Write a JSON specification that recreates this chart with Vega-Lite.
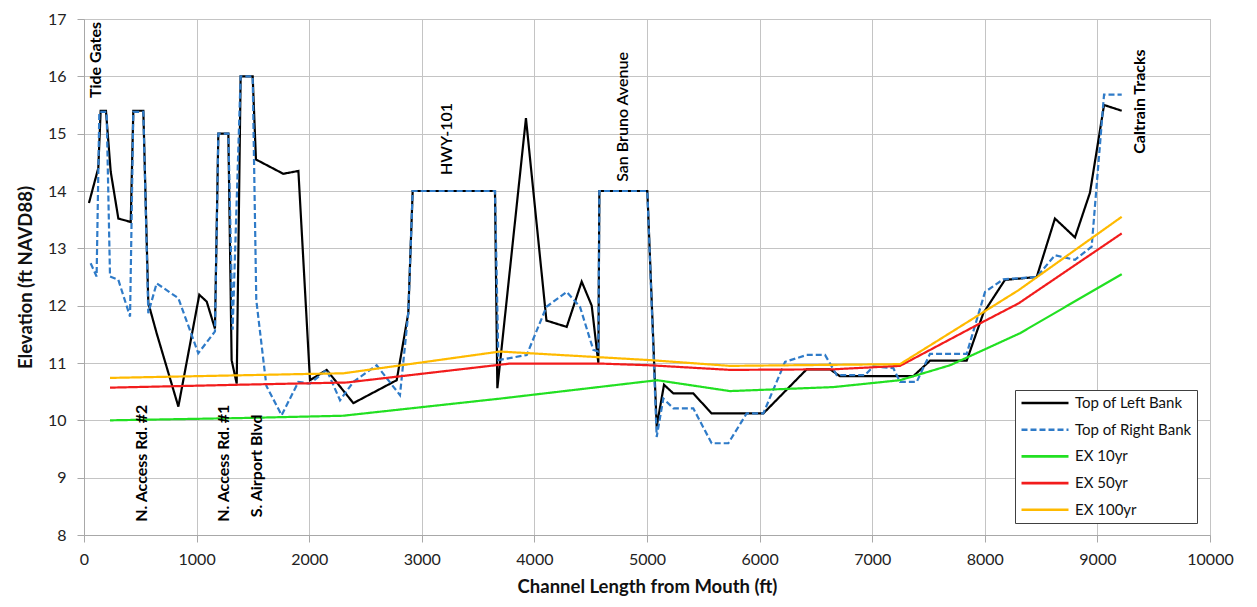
{
  "$schema": "https://vega.github.io/schema/vega-lite/v6.json",
  "width": 1126,
  "height": 516,
  "autosize": {"type": "none"},
  "padding": {"left": 84, "top": 19, "right": 47, "bottom": 72},
  "background": "white",
  "config": {
    "font": "Lato",
    "view": {"stroke": "#b4b4b4", "strokeWidth": 1},
    "axis": {
      "gridColor": "#c4c4c4",
      "gridWidth": 1,
      "domainColor": "#a8a8a8",
      "tickColor": "#a8a8a8",
      "tickSize": 7,
      "labelFont": "Lato",
      "labelFontSize": 16,
      "labelColor": "#222222",
      "titleFont": "Lato",
      "titleFontSize": 18.5,
      "titleFontWeight": "bold",
      "titleColor": "#111111"
    }
  },
  "datasets": {
    "lines": [
      {"series": "Top of Left Bank", "x": 44, "y": 13.79},
      {"series": "Top of Left Bank", "x": 127, "y": 14.40},
      {"series": "Top of Left Bank", "x": 148, "y": 15.40},
      {"series": "Top of Left Bank", "x": 195, "y": 15.40},
      {"series": "Top of Left Bank", "x": 237, "y": 14.34},
      {"series": "Top of Left Bank", "x": 305, "y": 13.52},
      {"series": "Top of Left Bank", "x": 415, "y": 13.46},
      {"series": "Top of Left Bank", "x": 438, "y": 15.40},
      {"series": "Top of Left Bank", "x": 527, "y": 15.40},
      {"series": "Top of Left Bank", "x": 571, "y": 12.05},
      {"series": "Top of Left Bank", "x": 645, "y": 11.52},
      {"series": "Top of Left Bank", "x": 838, "y": 10.24},
      {"series": "Top of Left Bank", "x": 1024, "y": 12.19},
      {"series": "Top of Left Bank", "x": 1090, "y": 12.07},
      {"series": "Top of Left Bank", "x": 1163, "y": 11.60},
      {"series": "Top of Left Bank", "x": 1193, "y": 15.00},
      {"series": "Top of Left Bank", "x": 1282, "y": 15.00},
      {"series": "Top of Left Bank", "x": 1311, "y": 11.05},
      {"series": "Top of Left Bank", "x": 1356, "y": 10.64},
      {"series": "Top of Left Bank", "x": 1391, "y": 16.00},
      {"series": "Top of Left Bank", "x": 1498, "y": 16.00},
      {"series": "Top of Left Bank", "x": 1527, "y": 14.55},
      {"series": "Top of Left Bank", "x": 1770, "y": 14.30},
      {"series": "Top of Left Bank", "x": 1904, "y": 14.35},
      {"series": "Top of Left Bank", "x": 2007, "y": 10.70},
      {"series": "Top of Left Bank", "x": 2155, "y": 10.88},
      {"series": "Top of Left Bank", "x": 2392, "y": 10.30},
      {"series": "Top of Left Bank", "x": 2777, "y": 10.70},
      {"series": "Top of Left Bank", "x": 2880, "y": 11.87},
      {"series": "Top of Left Bank", "x": 2919, "y": 14.00},
      {"series": "Top of Left Bank", "x": 3650, "y": 14.00},
      {"series": "Top of Left Bank", "x": 3671, "y": 10.56},
      {"series": "Top of Left Bank", "x": 3925, "y": 15.27},
      {"series": "Top of Left Bank", "x": 4107, "y": 11.74},
      {"series": "Top of Left Bank", "x": 4287, "y": 11.63},
      {"series": "Top of Left Bank", "x": 4420, "y": 12.42},
      {"series": "Top of Left Bank", "x": 4509, "y": 12.00},
      {"series": "Top of Left Bank", "x": 4568, "y": 11.00},
      {"series": "Top of Left Bank", "x": 4577, "y": 14.00},
      {"series": "Top of Left Bank", "x": 5003, "y": 14.00},
      {"series": "Top of Left Bank", "x": 5086, "y": 9.89},
      {"series": "Top of Left Bank", "x": 5151, "y": 10.62},
      {"series": "Top of Left Bank", "x": 5234, "y": 10.47},
      {"series": "Top of Left Bank", "x": 5411, "y": 10.47},
      {"series": "Top of Left Bank", "x": 5574, "y": 10.12},
      {"series": "Top of Left Bank", "x": 6033, "y": 10.12},
      {"series": "Top of Left Bank", "x": 6418, "y": 10.89},
      {"series": "Top of Left Bank", "x": 6625, "y": 10.89},
      {"series": "Top of Left Bank", "x": 6714, "y": 10.77},
      {"series": "Top of Left Bank", "x": 7365, "y": 10.77},
      {"series": "Top of Left Bank", "x": 7513, "y": 11.04},
      {"series": "Top of Left Bank", "x": 7839, "y": 11.04},
      {"series": "Top of Left Bank", "x": 7987, "y": 11.87},
      {"series": "Top of Left Bank", "x": 8179, "y": 12.45},
      {"series": "Top of Left Bank", "x": 8461, "y": 12.50},
      {"series": "Top of Left Bank", "x": 8623, "y": 13.52},
      {"series": "Top of Left Bank", "x": 8801, "y": 13.19},
      {"series": "Top of Left Bank", "x": 8934, "y": 13.97},
      {"series": "Top of Left Bank", "x": 9059, "y": 15.50},
      {"series": "Top of Left Bank", "x": 9216, "y": 15.40},

      {"series": "Top of Right Bank", "x": 59, "y": 12.74},
      {"series": "Top of Right Bank", "x": 112, "y": 12.51},
      {"series": "Top of Right Bank", "x": 136, "y": 15.38},
      {"series": "Top of Right Bank", "x": 201, "y": 15.38},
      {"series": "Top of Right Bank", "x": 231, "y": 12.51},
      {"series": "Top of Right Bank", "x": 305, "y": 12.45},
      {"series": "Top of Right Bank", "x": 409, "y": 11.81},
      {"series": "Top of Right Bank", "x": 438, "y": 15.38},
      {"series": "Top of Right Bank", "x": 527, "y": 15.38},
      {"series": "Top of Right Bank", "x": 571, "y": 11.87},
      {"series": "Top of Right Bank", "x": 645, "y": 12.39},
      {"series": "Top of Right Bank", "x": 838, "y": 12.13},
      {"series": "Top of Right Bank", "x": 1015, "y": 11.17},
      {"series": "Top of Right Bank", "x": 1163, "y": 11.55},
      {"series": "Top of Right Bank", "x": 1193, "y": 15.00},
      {"series": "Top of Right Bank", "x": 1282, "y": 15.00},
      {"series": "Top of Right Bank", "x": 1320, "y": 11.58},
      {"series": "Top of Right Bank", "x": 1391, "y": 16.00},
      {"series": "Top of Right Bank", "x": 1498, "y": 16.00},
      {"series": "Top of Right Bank", "x": 1530, "y": 12.10},
      {"series": "Top of Right Bank", "x": 1620, "y": 10.60},
      {"series": "Top of Right Bank", "x": 1755, "y": 10.09},
      {"series": "Top of Right Bank", "x": 1904, "y": 10.67},
      {"series": "Top of Right Bank", "x": 2007, "y": 10.64},
      {"series": "Top of Right Bank", "x": 2155, "y": 10.88},
      {"series": "Top of Right Bank", "x": 2274, "y": 10.35},
      {"series": "Top of Right Bank", "x": 2392, "y": 10.67},
      {"series": "Top of Right Bank", "x": 2599, "y": 10.96},
      {"series": "Top of Right Bank", "x": 2806, "y": 10.44},
      {"series": "Top of Right Bank", "x": 2880, "y": 11.87},
      {"series": "Top of Right Bank", "x": 2919, "y": 14.00},
      {"series": "Top of Right Bank", "x": 3650, "y": 14.00},
      {"series": "Top of Right Bank", "x": 3680, "y": 11.05},
      {"series": "Top of Right Bank", "x": 3932, "y": 11.14},
      {"series": "Top of Right Bank", "x": 4107, "y": 11.98},
      {"series": "Top of Right Bank", "x": 4287, "y": 12.24},
      {"series": "Top of Right Bank", "x": 4405, "y": 11.98},
      {"series": "Top of Right Bank", "x": 4523, "y": 11.23},
      {"series": "Top of Right Bank", "x": 4568, "y": 11.20},
      {"series": "Top of Right Bank", "x": 4577, "y": 14.00},
      {"series": "Top of Right Bank", "x": 5003, "y": 14.00},
      {"series": "Top of Right Bank", "x": 5086, "y": 9.71},
      {"series": "Top of Right Bank", "x": 5145, "y": 10.38},
      {"series": "Top of Right Bank", "x": 5234, "y": 10.21},
      {"series": "Top of Right Bank", "x": 5411, "y": 10.21},
      {"series": "Top of Right Bank", "x": 5574, "y": 9.60},
      {"series": "Top of Right Bank", "x": 5722, "y": 9.60},
      {"series": "Top of Right Bank", "x": 5885, "y": 10.12},
      {"series": "Top of Right Bank", "x": 6033, "y": 10.12},
      {"series": "Top of Right Bank", "x": 6226, "y": 11.02},
      {"series": "Top of Right Bank", "x": 6418, "y": 11.14},
      {"series": "Top of Right Bank", "x": 6581, "y": 11.14},
      {"series": "Top of Right Bank", "x": 6685, "y": 10.79},
      {"series": "Top of Right Bank", "x": 6936, "y": 10.79},
      {"series": "Top of Right Bank", "x": 7010, "y": 10.94},
      {"series": "Top of Right Bank", "x": 7188, "y": 10.91},
      {"series": "Top of Right Bank", "x": 7247, "y": 10.67},
      {"series": "Top of Right Bank", "x": 7395, "y": 10.67},
      {"series": "Top of Right Bank", "x": 7513, "y": 11.16},
      {"series": "Top of Right Bank", "x": 7839, "y": 11.16},
      {"series": "Top of Right Bank", "x": 8002, "y": 12.24},
      {"series": "Top of Right Bank", "x": 8165, "y": 12.46},
      {"series": "Top of Right Bank", "x": 8461, "y": 12.50},
      {"series": "Top of Right Bank", "x": 8623, "y": 12.88},
      {"series": "Top of Right Bank", "x": 8801, "y": 12.80},
      {"series": "Top of Right Bank", "x": 8949, "y": 13.03},
      {"series": "Top of Right Bank", "x": 9059, "y": 15.68},
      {"series": "Top of Right Bank", "x": 9216, "y": 15.68},

      {"series": "EX 10yr", "x": 231, "y": 10.00},
      {"series": "EX 10yr", "x": 1400, "y": 10.04},
      {"series": "EX 10yr", "x": 2300, "y": 10.08},
      {"series": "EX 10yr", "x": 3700, "y": 10.38},
      {"series": "EX 10yr", "x": 5090, "y": 10.70},
      {"series": "EX 10yr", "x": 5737, "y": 10.51},
      {"series": "EX 10yr", "x": 6655, "y": 10.58},
      {"series": "EX 10yr", "x": 7247, "y": 10.70},
      {"series": "EX 10yr", "x": 7691, "y": 10.96},
      {"series": "EX 10yr", "x": 8313, "y": 11.52},
      {"series": "EX 10yr", "x": 9216, "y": 12.55},

      {"series": "EX 50yr", "x": 231, "y": 10.57},
      {"series": "EX 50yr", "x": 1356, "y": 10.62},
      {"series": "EX 50yr", "x": 2333, "y": 10.66},
      {"series": "EX 50yr", "x": 3783, "y": 10.99},
      {"series": "EX 50yr", "x": 4583, "y": 10.99},
      {"series": "EX 50yr", "x": 5027, "y": 10.96},
      {"series": "EX 50yr", "x": 5737, "y": 10.88},
      {"series": "EX 50yr", "x": 6655, "y": 10.89},
      {"series": "EX 50yr", "x": 7247, "y": 10.95},
      {"series": "EX 50yr", "x": 7957, "y": 11.69},
      {"series": "EX 50yr", "x": 8300, "y": 12.04},
      {"series": "EX 50yr", "x": 9216, "y": 13.26},

      {"series": "EX 100yr", "x": 231, "y": 10.74},
      {"series": "EX 100yr", "x": 2007, "y": 10.81},
      {"series": "EX 100yr", "x": 2303, "y": 10.82},
      {"series": "EX 100yr", "x": 3694, "y": 11.20},
      {"series": "EX 100yr", "x": 5027, "y": 11.05},
      {"series": "EX 100yr", "x": 5737, "y": 10.95},
      {"series": "EX 100yr", "x": 7247, "y": 10.98},
      {"series": "EX 100yr", "x": 8300, "y": 12.27},
      {"series": "EX 100yr", "x": 9216, "y": 13.55}
    ],
    "boldLabels": [
      {"label": "Tide Gates", "x": 107, "y": 15.62},
      {"label": "N. Access Rd. #2", "x": 511, "y": 8.23},
      {"label": "N. Access Rd. #1", "x": 1243, "y": 8.23},
      {"label": "S. Airport Blvd", "x": 1536, "y": 8.31},
      {"label": "Caltrain Tracks", "x": 9378, "y": 14.65}
    ],
    "plainLabels": [
      {"label": "HWY-101", "x": 3228, "y": 14.28},
      {"label": "San Bruno Avenue", "x": 4787, "y": 14.16}
    ]
  },
  "layer": [
    {
      "data": {"name": "lines"},
      "mark": {"type": "line", "strokeWidth": 2.2, "clip": true},
      "encoding": {
        "x": {
          "field": "x", "type": "quantitative",
          "scale": {"domain": [0, 10000], "nice": false},
          "axis": {"values": [0,1000,2000,3000,4000,5000,6000,7000,8000,9000,10000], "format": "d", "labelPadding": 9, "title": "Channel Length from Mouth (ft)", "titlePadding": 10, "labelFlush": false}
        },
        "y": {
          "field": "y", "type": "quantitative",
          "scale": {"domain": [8, 17], "nice": false, "zero": false},
          "axis": {"values": [8,9,10,11,12,13,14,15,16,17], "format": "d", "labelPadding": 11, "title": "Elevation (ft NAVD88)", "titlePadding": 12}
        },
        "color": {
          "field": "series", "type": "nominal",
          "scale": {
            "domain": ["Top of Left Bank", "Top of Right Bank", "EX 10yr", "EX 50yr", "EX 100yr"],
            "range": ["#000000", "#2f7bc8", "#22e022", "#f21c1c", "#ffba00"]
          },
          "legend": {
            "orient": "none",
            "legendX": 931,
            "legendY": 371,
            "title": null,
            "symbolType": "stroke",
            "symbolSize": 2209,
            "symbolStrokeWidth": 2.6,
            "labelFont": "Lato",
            "labelFontSize": 15,
            "labelColor": "#111111",
            "labelOffset": 5,
            "rowPadding": 10.7,
            "clipHeight": 16,
            "padding": 5,
            "fillColor": "white",
            "strokeColor": "#404040"
          }
        },
        "strokeDash": {
          "field": "series", "type": "nominal",
          "scale": {
            "domain": ["Top of Left Bank", "Top of Right Bank", "EX 10yr", "EX 50yr", "EX 100yr"],
            "range": [[1, 0], [6, 3], [1, 0], [1, 0], [1, 0]]
          },
          "legend": {
            "orient": "none",
            "legendX": 931,
            "legendY": 371,
            "title": null,
            "symbolType": "stroke",
            "symbolSize": 2209,
            "symbolStrokeWidth": 2.6,
            "labelFont": "Lato",
            "labelFontSize": 15,
            "labelColor": "#111111",
            "labelOffset": 5,
            "rowPadding": 10.7,
            "clipHeight": 16,
            "padding": 5,
            "fillColor": "white",
            "strokeColor": "#404040"
          }
        }
      }
    },
    {
      "data": {"name": "boldLabels"},
      "mark": {"type": "text", "angle": 270, "align": "left", "baseline": "middle", "font": "Lato", "fontSize": 16, "fontWeight": "bold", "color": "#000000"},
      "encoding": {
        "x": {"field": "x", "type": "quantitative"},
        "y": {"field": "y", "type": "quantitative"},
        "text": {"field": "label", "type": "nominal"}
      }
    },
    {
      "data": {"name": "plainLabels"},
      "mark": {"type": "text", "angle": 270, "align": "left", "baseline": "middle", "font": "Lato", "fontSize": 16, "fontWeight": 600, "color": "#000000"},
      "encoding": {
        "x": {"field": "x", "type": "quantitative"},
        "y": {"field": "y", "type": "quantitative"},
        "text": {"field": "label", "type": "nominal"}
      }
    }
  ]
}
